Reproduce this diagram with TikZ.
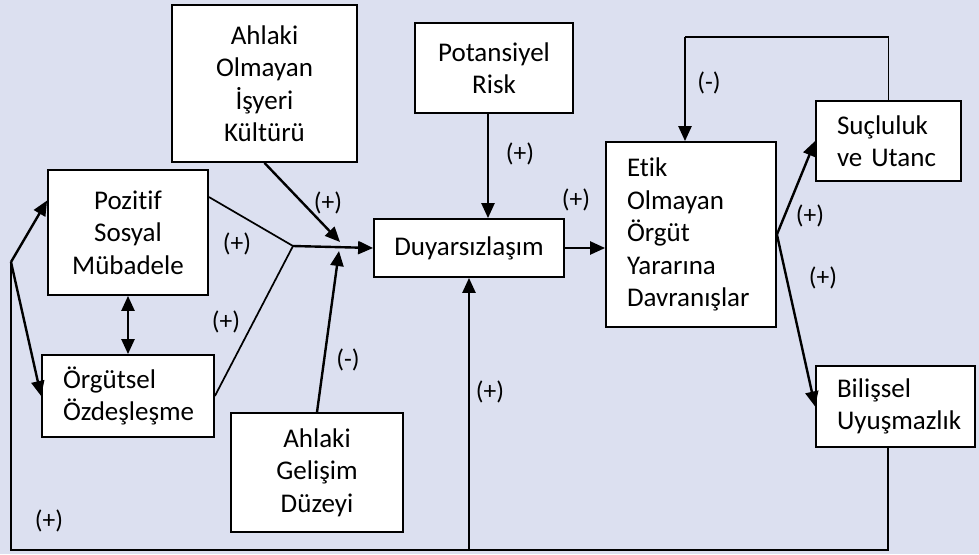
\documentclass[tikz,border=0pt]{standalone}
\usepackage{fontspec}
\setmainfont{Carlito}[RawFeature={-liga}]
\usetikzlibrary{arrows.meta,calc}
\definecolor{bgc}{RGB}{220,224,240}
\tikzset{
  box/.style={draw=black, line width=1.8pt, fill=white, inner sep=0pt, align=center,
    font=\fontsize{27}{32.5}\selectfont},
  lbox/.style={box, align=left, inner xsep=21pt},
  arr/.style={line width=2.4pt, -{Triangle[length=15pt,width=13pt]}},
  darr/.style={line width=2.4pt, {Triangle[length=15pt,width=13pt]}-{Triangle[length=15pt,width=13pt]}},
  thin line/.style={line width=1.7pt},
  lbl/.style={font=\fontsize{25.5}{28}\selectfont, inner sep=0pt}
}
\begin{document}
\begin{tikzpicture}[x=1pt,y=-1pt]
\fill[bgc] (0,0) rectangle (979,554);
\useasboundingbox (0,0) rectangle (979,554);

\node[box, minimum width=185pt, minimum height=157pt] (kultur) at (264.5,83.5) {Ahlaki\\Olmayan\\İşyeri\\Kültürü};
\node[box, minimum width=158pt, minimum height=90pt] (risk) at (494,68) {Potansiyel\\Risk};
\node[box, minimum width=190pt, minimum height=58pt] (duyar) at (469,248) {Duyarsızlaşım};
\node[lbox, text width=128pt, minimum width=170pt, minimum height=185pt] (etik) at (691,234.5) {Etik\\Olmayan\\Örgüt\\Yararına\\Davranışlar};
\node[lbox, text width=103pt, minimum width=145pt, minimum height=80pt] (suc) at (888.5,141) {Suçluluk\\ve Utanc};
\node[lbox, text width=117pt, minimum width=159pt, minimum height=81pt] (bil) at (895.5,406.5) {Bilişsel\\Uyuşmazlık};
\node[box, minimum width=160pt, minimum height=125pt] (poz) at (128,232.5) {Pozitif\\Sosyal\\Mübadele};
\node[lbox, text width=130pt, minimum width=172pt, minimum height=82pt] (org) at (128,396) {Örgütsel\\Özdeşleşme};
\node[box, minimum width=172pt, minimum height=119pt] (gel) at (317,472.5) {Ahlaki\\Gelişim\\Düzeyi};

\coordinate (J) at (293,246);
\coordinate (T1) at (340,242);
\coordinate (T2) at (339,251);
\coordinate (L) at (11,262);
\coordinate (B) at (11,550);
\coordinate (Top) at (685,37);

% into Duyarsizlasim
\draw[thin line] ([yshift=35.5pt]poz.east) -- (J);
\draw[thin line] (org.east) -- (J);
\draw[arr] (J) -- (duyar.west);
\draw[arr] (kultur.south) -- (T1);
\draw[arr] (gel.north) -- (T2);
\draw[arr] ([xshift=-6pt]risk.south) -- ([xshift=-6pt]risk.south |- duyar.north);
\draw[arr] (duyar.east) -- (duyar.east -| etik.west);

% feedback
\draw[line width=1.8pt] (suc.north) |- (Top);
\draw[arr] (Top) -- (Top |- etik.north);
\draw[arr] (etik.east) -- (suc.west);
\draw[arr] (etik.east) -- (bil.west);

% bottom loop
\draw[thin line] ([xshift=-7.5pt]bil.south) |- (B) -- (L);
\draw[arr] (L) -- ([yshift=32pt]poz.west);
\draw[arr] (L) -- (org.west);
\draw[arr] (duyar.south |- B) -- (duyar.south);
\draw[darr] (poz.south) -- (org.north);

% labels
\node[lbl] (l1) at (328,203) {(+)};
\node[lbl] (l2) at (237,244) {(+)};
\node[lbl] (l3) at (226,322) {(+)};
\node[lbl] (l4) at (348,360) {(-)};
\node[lbl] (l5) at (49,521) {(+)};
\node[lbl] (l6) at (520,154) {(+)};
\node[lbl] (l7) at (576,200) {(+)};
\node[lbl] (l8) at (709,83) {(-)};
\node[lbl] (l9) at (810,216) {(+)};
\node[lbl] (l10) at (823,278) {(+)};
\node[lbl] (l11) at (490,392) {(+)};
\end{tikzpicture}
\end{document}
